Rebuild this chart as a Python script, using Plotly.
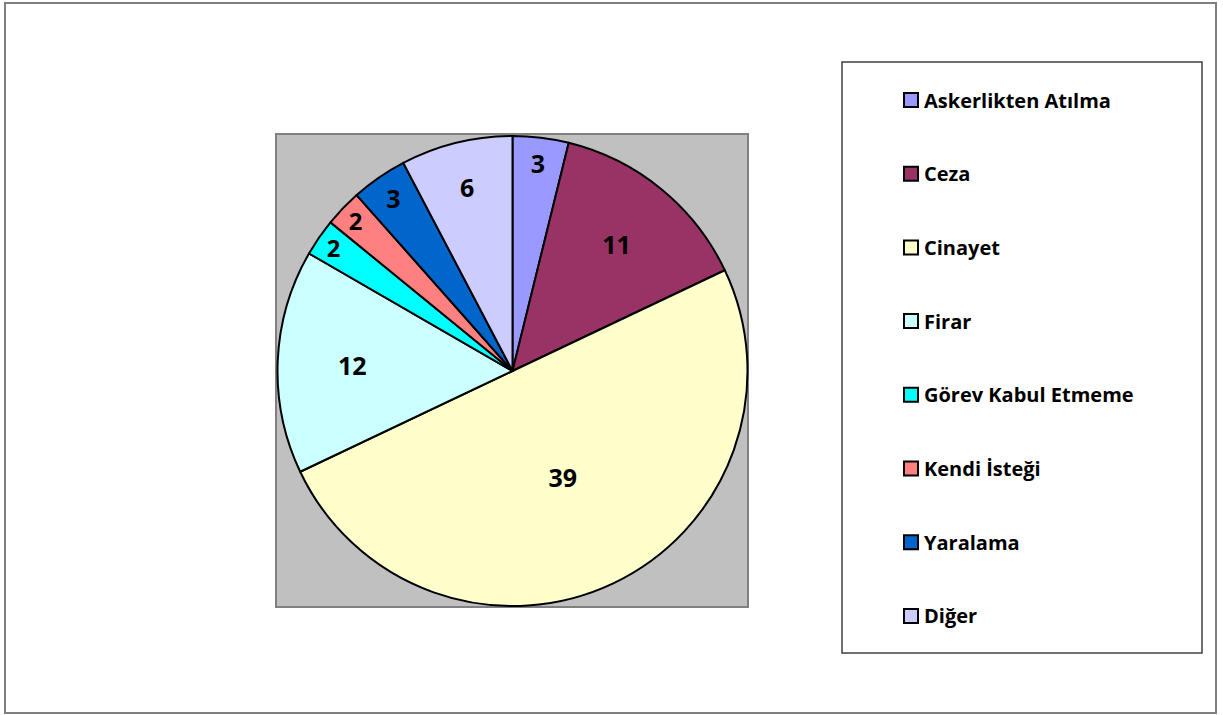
import plotly.graph_objects as go

categories = ["Askerlikten Atılma", "Ceza", "Cinayet", "Firar", "Görev Kabul Etmeme",
              "Kendi İsteği", "Yaralama", "Diğer"]
values = [3, 11, 39, 12, 2, 2, 3, 6]
colors = ["#9999FF", "#993366", "#FFFFCC", "#CCFFFF", "#00FFFF", "#FF8080", "#0066CC", "#CCCCFF"]

W, H = 1223, 715
FONT = "Open Sans"

def px(x):
    return x / W

def py(y):
    return 1 - y / H

fig = go.Figure()
fig.add_trace(go.Pie(
    labels=categories, values=values, sort=False, direction="clockwise", rotation=0,
    marker=dict(colors=colors, line=dict(color="black", width=2)),
    textinfo="value", textposition="inside", insidetextorientation="horizontal",
    textfont=dict(family=FONT, size=25, color="black", weight="bold"),
    domain=dict(x=[px(277), px(748)], y=[py(606), py(136)]),
    showlegend=False, hoverinfo="label+value",
))

shapes = [
    # outer chart border
    dict(type="rect", xref="paper", yref="paper", x0=px(5), x1=px(1216), y0=py(713), y1=py(3),
         line=dict(color="#7f7f7f", width=2), fillcolor="rgba(0,0,0,0)", layer="below"),
    # plot area
    dict(type="rect", xref="paper", yref="paper", x0=px(276), x1=px(748), y0=py(607), y1=py(134),
         line=dict(color="#808080", width=2), fillcolor="#C0C0C0", layer="below"),
    # legend box
    dict(type="rect", xref="paper", yref="paper", x0=px(842), x1=px(1202), y0=py(653), y1=py(62),
         line=dict(color="#404040", width=1.5), fillcolor="white", layer="below"),
]
annotations = []
y0, step = 100, 73.7
for i, (cat, col) in enumerate(zip(categories, colors)):
    yc = y0 + i * step
    shapes.append(dict(type="rect", xref="paper", yref="paper",
                       x0=px(904), x1=px(918), y0=py(yc + 7), y1=py(yc - 7),
                       line=dict(color="black", width=2), fillcolor=col))
    annotations.append(dict(x=px(922), y=py(yc), xref="paper", yref="paper", text=cat,
                            showarrow=False, xanchor="left", yanchor="middle",
                            font=dict(family=FONT, size=20, color="black", weight="bold")))

fig.update_layout(
    width=W, height=H, margin=dict(l=0, r=0, t=0, b=0),
    paper_bgcolor="white", plot_bgcolor="white",
    shapes=shapes, annotations=annotations,
)
fig.write_html("out.html", config={"displayModeBar": False},
               post_script="document.body.style.margin='0';document.body.style.overflow='hidden';")
